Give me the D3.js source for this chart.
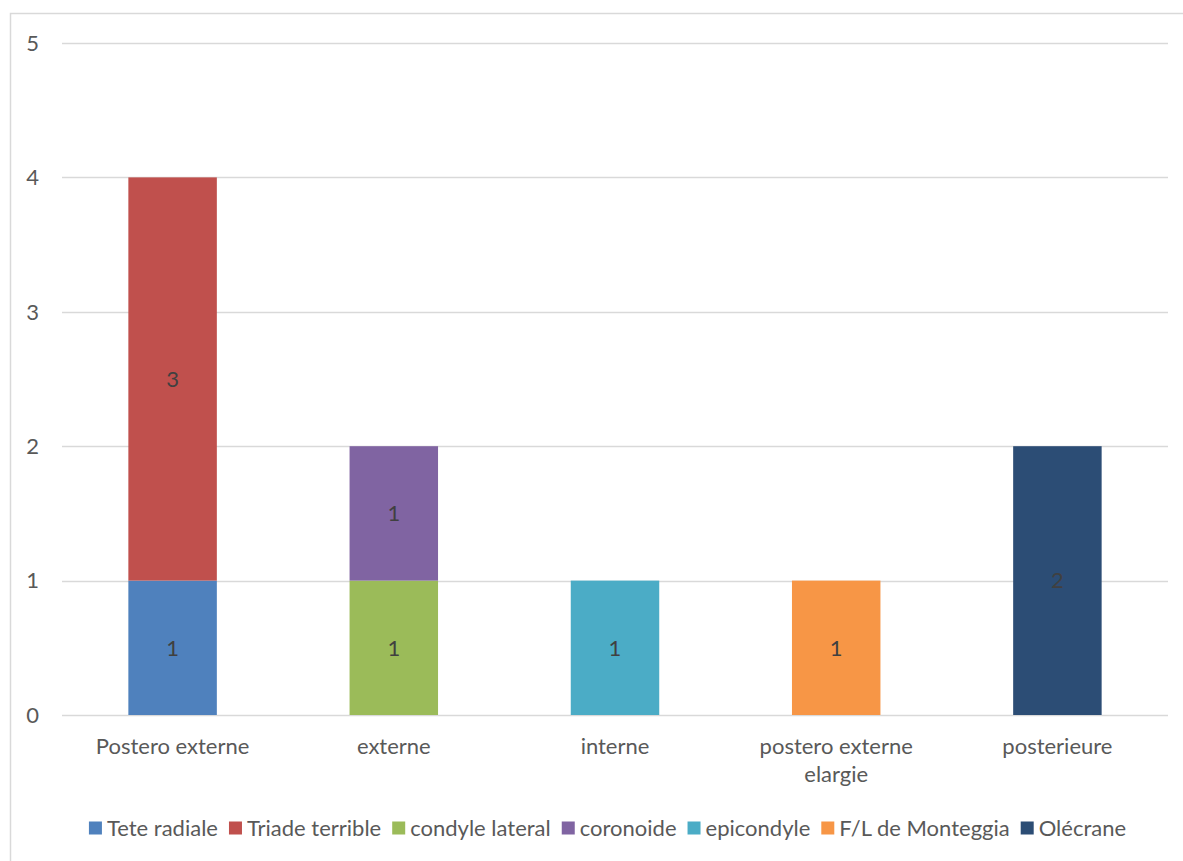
<!DOCTYPE html>
<html>
<head>
<meta charset="utf-8">
<script src="https://cdn.jsdelivr.net/npm/d3@7"></script>
<style>
  html, body { margin: 0; padding: 0; background: #fff; }
  svg { display: block; font-family: "Lato", "Liberation Sans", sans-serif; }
</style>
</head>
<body>
<svg id="chart" width="1183" height="861"></svg>
<script>
// Categories (dislocation type) on the x axis
const categories = ["Postero externe", "externe", "interne", "postero externe elargie", "posterieure"];
const categoryLines = [["Postero externe"], ["externe"], ["interne"], ["postero externe", "elargie"], ["posterieure"]];

// Associated lesion series, counts per category
const seriesNames = ["Tete radiale", "Triade terrible", "condyle lateral", "coronoide", "epicondyle", "F/L de Monteggia", "Olécrane"];
const teteRadiale   = [1, 0, 0, 0, 0];
const triadeTerrible = [3, 0, 0, 0, 0];
const condyleLateral = [0, 1, 0, 0, 0];
const coronoide     = [0, 1, 0, 0, 0];
const epicondyle    = [0, 0, 1, 0, 0];
const monteggia     = [0, 0, 0, 1, 0];
const olecrane      = [0, 0, 0, 0, 2];
const seriesValues = [teteRadiale, triadeTerrible, condyleLateral, coronoide, epicondyle, monteggia, olecrane];
const seriesColors = ["#4F81BD", "#C0504D", "#9BBB59", "#8064A2", "#4BACC6", "#F79646", "#2C4D75"];

const yTicks = [0, 1, 2, 3, 4, 5];

const svg = d3.select("#chart");

// Chart area frame
svg.append("path")
  .attr("d", "M10.5,861 L10.5,13.5 L1183,13.5")
  .attr("fill", "none")
  .attr("stroke", "#D9D9D9")
  .attr("stroke-width", 1.5);

const plot = { left: 62, right: 1168, top: 43, bottom: 715 };

const x = d3.scaleBand()
  .domain(categories)
  .range([plot.left, plot.right])
  .paddingInner(0.6)
  .paddingOuter(0.3);

const y = d3.scaleLinear()
  .domain([0, 5])
  .range([plot.bottom, plot.top]);

// Gridlines
svg.append("g")
  .selectAll("line")
  .data(yTicks)
  .join("line")
  .attr("x1", plot.left)
  .attr("x2", plot.right)
  .attr("y1", d => Math.round(y(d)) + 0.5)
  .attr("y2", d => Math.round(y(d)) + 0.5)
  .attr("stroke", "#D9D9D9")
  .attr("stroke-width", 1.5);

// Y tick labels
svg.append("g")
  .selectAll("text")
  .data(yTicks)
  .join("text")
  .attr("x", 39)
  .attr("y", d => y(d))
  .attr("dy", "0.35em")
  .attr("text-anchor", "end")
  .attr("fill", "#595959")
  .attr("font-size", 22)
  .text(d => d);

// Stack the series
const rows = categories.map((c, i) => {
  const r = { category: c };
  seriesNames.forEach((s, j) => { r[s] = seriesValues[j][i]; });
  return r;
});
const stacked = d3.stack().keys(seriesNames)(rows);

const layers = svg.append("g")
  .selectAll("g")
  .data(stacked)
  .join("g")
  .attr("fill", (d, i) => seriesColors[i]);

layers.selectAll("rect")
  .data(d => d.filter(p => p[1] - p[0] > 0))
  .join("rect")
  .attr("x", d => x(d.data.category))
  .attr("width", x.bandwidth())
  .attr("y", d => y(d[1]))
  .attr("height", d => y(d[0]) - y(d[1]));

// Value labels centred in each segment
layers.selectAll("text")
  .data(d => d.filter(p => p[1] - p[0] > 0))
  .join("text")
  .attr("x", d => x(d.data.category) + x.bandwidth() / 2)
  .attr("y", d => y((d[0] + d[1]) / 2))
  .attr("dy", "0.35em")
  .attr("text-anchor", "middle")
  .attr("fill", "#404040")
  .attr("font-size", 22)
  .text(d => d[1] - d[0]);

// X category labels
const xl = svg.append("g")
  .selectAll("text")
  .data(categories)
  .join("text")
  .attr("x", d => x(d) + x.bandwidth() / 2)
  .attr("y", 754)
  .attr("text-anchor", "middle")
  .attr("fill", "#595959")
  .attr("font-size", 22);
xl.selectAll("tspan")
  .data((d, i) => categoryLines[i])
  .join("tspan")
  .attr("x", function () { return d3.select(this.parentNode).attr("x"); })
  .attr("dy", (d, i) => i === 0 ? 0 : 28)
  .text(d => d);

// Legend
const legend = svg.append("g");
const items = legend.selectAll("g")
  .data(seriesNames)
  .join("g");
items.append("rect")
  .attr("width", 13)
  .attr("height", 13)
  .attr("y", -6.5)
  .attr("fill", (d, i) => seriesColors[i]);
items.append("text")
  .attr("x", 18)
  .attr("dy", "0.35em")
  .attr("fill", "#595959")
  .attr("font-size", 22)
  .text(d => d);

let offset = 0;
const positions = [];
items.each(function () {
  const w = 18 + this.querySelector("text").getComputedTextLength();
  positions.push(offset);
  offset += w + 11;
});
const total = offset - 11;
const startX = (80 + 1135) / 2 - total / 2;
items.attr("transform", (d, i) => `translate(${startX + positions[i]},828)`);
</script>
</body>
</html>
